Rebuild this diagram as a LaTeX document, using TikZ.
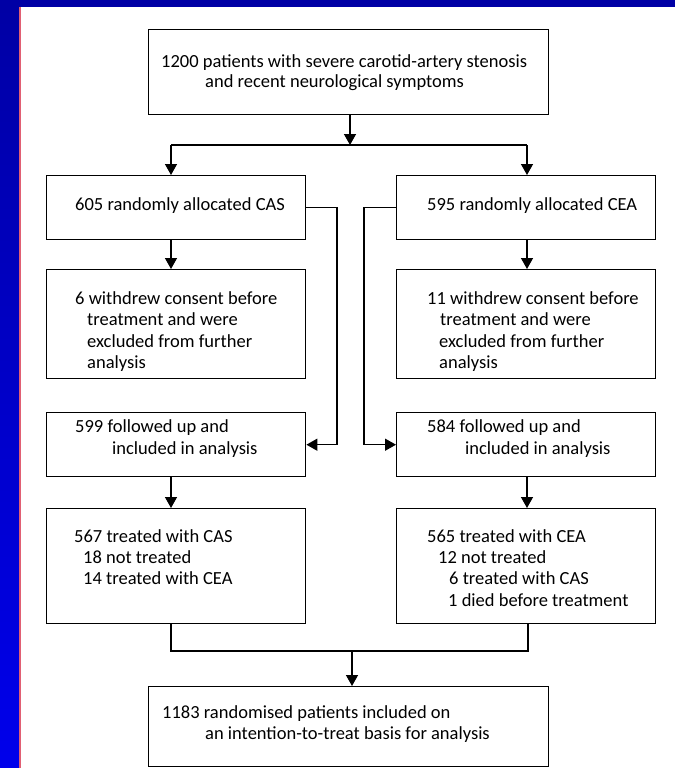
\documentclass[tikz,border=0pt]{standalone}
\usepackage{fontspec}
\setmainfont{Carlito}
\usetikzlibrary{arrows.meta}
\definecolor{bgblue}{RGB}{0,0,165}
\definecolor{bgblue2}{RGB}{0,0,235}
\definecolor{edgered}{RGB}{225,95,115}
\begin{document}
\begin{tikzpicture}[x=1pt,y=-1pt,
  box/.style={draw=black,line width=1.4pt,inner sep=0pt,anchor=north west},
  conn/.style={line width=1.4pt},
  arr/.style={conn,-{Triangle[length=11pt,width=12pt]}},
  txt/.style={anchor=base west,inner sep=0pt,font=\fontsize{18.5}{21}\selectfont}]
\useasboundingbox (0,0) rectangle (675,768);
\fill[bgblue] (0,0) rectangle (675,768);
\shade[top color=bgblue,bottom color=bgblue2] (0,7) rectangle (20,768);
\fill[white] (20,7) rectangle (675,768);
\fill[edgered] (19,7) rectangle (21,768);

% boxes
\node[box,minimum width=400pt,minimum height=85pt] (top) at (148,29) {};
\node[box,minimum width=259pt,minimum height=64pt] (L1) at (46,175) {};
\node[box,minimum width=259pt,minimum height=64pt] (R1) at (396,175) {};
\node[box,minimum width=259pt,minimum height=109pt] (L2) at (46,269) {};
\node[box,minimum width=259pt,minimum height=109pt] (R2) at (396,269) {};
\node[box,minimum width=259pt,minimum height=64pt] (L3) at (46,412) {};
\node[box,minimum width=259pt,minimum height=64pt] (R3) at (396,412) {};
\node[box,minimum width=259pt,minimum height=115pt] (L4) at (46,508) {};
\node[box,minimum width=259pt,minimum height=115pt] (R4) at (396,508) {};
\node[box,minimum width=400pt,minimum height=80pt] (bot) at (148,686) {};

% texts
\node[txt] (ta) at (161,67) {1200 patients with severe carotid-artery stenosis};
\node[txt] (tb) at (205,88) {and recent neurological symptoms};

\node[txt] (l1) at (75,210) {605 randomly allocated CAS};
\node[txt] (r1) at (427,210) {595 randomly allocated CEA};

\node[txt] (l2a) at (75,304) {6 withdrew consent before};
\node[txt] (l2b) at (87,325) {treatment and were};
\node[txt] (l2c) at (87,347) {excluded from further};
\node[txt] (l2d) at (87,368) {analysis};
\node[txt] (r2a) at (427,304) {11 withdrew consent before};
\node[txt] (r2b) at (440,325) {treatment and were};
\node[txt] (r2c) at (439,347) {excluded from further};
\node[txt] (r2d) at (439,368) {analysis};

\node[txt] (l3a) at (75,432) {599 followed up and};
\node[txt] (l3b) at (112,454) {included in analysis};
\node[txt] (r3a) at (427,432) {584 followed up and};
\node[txt] (r3b) at (465,454) {included in analysis};

\node[txt] (l4a) at (74,542) {567 treated with CAS};
\node[txt] (l4b) at (83,563) {18 not treated};
\node[txt] (l4c) at (83,584) {14 treated with CEA};
\node[txt] (r4a) at (427,542) {565 treated with CEA};
\node[txt] (r4b) at (438,563) {12 not treated};
\node[txt] (r4c) at (449,584) {6 treated with CAS};
\node[txt] (r4d) at (448,606) {1 died before treatment};

\node[txt] (ba) at (162,718) {1183 randomised patients included on};
\node[txt] (bb) at (205,739) {an intention-to-treat basis for analysis};

% connectors
\coordinate (sm) at (350,145);
\coordinate (sl) at (171,145);
\coordinate (sr) at (527,145);
\coordinate (cl) at (337,0);
\coordinate (cr) at (364,0);
\coordinate (bl) at (171,651);
\coordinate (br) at (528,651);
\coordinate (bm) at (352,651);

\draw[arr] (top.south -| sm) -- (sm);
\draw[conn] (sl) -- (sr);
\draw[arr] (sl) -- (sl |- L1.north);
\draw[arr] (sr) -- (sr |- R1.north);
\draw[arr] (L1.south -| sl) -- (L2.north -| sl);
\draw[arr] (R1.south -| sr) -- (R2.north -| sr);
\draw[arr] (L3.south -| sl) -- (L4.north -| sl);
\draw[arr] (R3.south -| sr) -- (R4.north -| sr);
\draw[arr] (L1.east) -- (L1.east -| cl) -- (L3.east -| cl) -- (L3.east);
\draw[arr] (R1.west) -- (R1.west -| cr) -- (R3.west -| cr) -- (R3.west);
\draw[conn] (L4.south -| bl) -- (bl) -- (br) -- (R4.south -| br);
\draw[arr] (bm) -- (bm |- bot.north);
\end{tikzpicture}
\end{document}
